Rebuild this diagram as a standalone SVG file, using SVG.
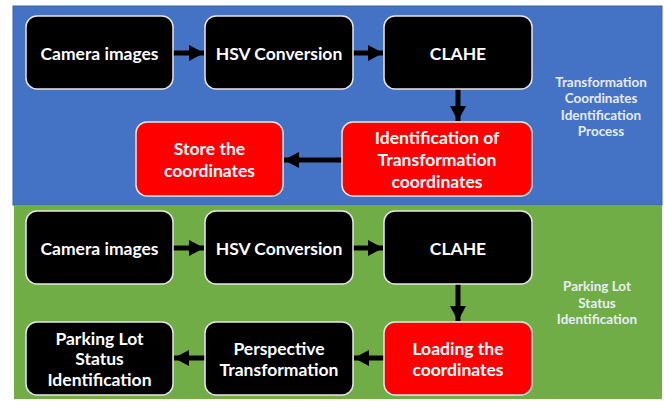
<svg xmlns="http://www.w3.org/2000/svg" width="664" height="401" viewBox="0 0 664 401">
<defs>
<style>
.box{stroke:#e6e6e6;stroke-width:1.5}
.blk{fill:#000}
.red{fill:#ff0000}
.t{font-family:Lato,"Open Sans","Liberation Sans",sans-serif;font-weight:bold;font-size:17.5px;fill:#fff;text-anchor:middle;dominant-baseline:central}
.side{font-family:Lato,"Open Sans","Liberation Sans",sans-serif;font-weight:bold;font-size:13.5px;fill:#e8ecf4;text-anchor:middle;dominant-baseline:central}
.c{stroke:#000;stroke-width:5;fill:none}
</style>
<marker id="ah" markerUnits="userSpaceOnUse" markerWidth="16" markerHeight="16" refX="15" refY="8" orient="auto">
<path d="M0,0 L15,8 L0,16 Z" fill="#000"/>
</marker>
</defs>
<rect x="0" y="0" width="664" height="401" fill="#fff"/>
<g id="panel-top">
<rect x="13" y="6" width="649" height="199" fill="#4472c4" stroke="#3a62aa" stroke-width="1"/>
<text class="side" x="601" y="82">Transformation</text>
<text class="side" x="601" y="98">Coordinates</text>
<text class="side" x="601" y="115">Identification</text>
<text class="side" x="601" y="131">Process</text>
</g>
<g id="panel-bottom">
<rect x="14" y="205" width="648" height="194" fill="#70ad47"/>
<text class="side" x="597" y="286">Parking Lot</text>
<text class="side" x="597" y="303">Status</text>
<text class="side" x="597" y="319">Identification</text>
</g>
<g id="connectors">
<line class="c" x1="173" y1="53" x2="204" y2="53" marker-end="url(#ah)"/>
<line class="c" x1="353" y1="53" x2="383" y2="53" marker-end="url(#ah)"/>
<line class="c" x1="458" y1="89" x2="458" y2="121" marker-end="url(#ah)"/>
<line class="c" x1="342" y1="160" x2="284" y2="160" marker-end="url(#ah)"/>
<line class="c" x1="173" y1="248" x2="204" y2="248" marker-end="url(#ah)"/>
<line class="c" x1="353" y1="248" x2="383" y2="248" marker-end="url(#ah)"/>
<line class="c" x1="458" y1="284" x2="458" y2="321" marker-end="url(#ah)"/>
<line class="c" x1="384" y1="358" x2="354" y2="358" marker-end="url(#ah)"/>
<line class="c" x1="205" y1="358" x2="174" y2="358" marker-end="url(#ah)"/>
</g>
<g id="camera1"><rect class="box blk" x="26" y="16" width="147" height="73" rx="11"/><text class="t" x="99.5" y="53">Camera images</text></g>
<g id="hsv1"><rect class="box blk" x="205" y="16" width="148" height="73" rx="11"/><text class="t" x="279" y="53">HSV Conversion</text></g>
<g id="clahe1"><rect class="box blk" x="384" y="16" width="148" height="73" rx="11"/><text class="t" x="458" y="53">CLAHE</text></g>
<g id="ident1"><rect class="box red" x="342" y="122" width="190" height="74" rx="11"/><text class="t" x="437" y="137">Identification of</text><text class="t" x="437" y="159">Transformation</text><text class="t" x="437" y="181">coordinates</text></g>
<g id="store1"><rect class="box red" x="136" y="122" width="147" height="74" rx="11"/><text class="t" x="209.5" y="148">Store the</text><text class="t" x="209.5" y="170">coordinates</text></g>
<g id="camera2"><rect class="box blk" x="26" y="211" width="147" height="73" rx="11"/><text class="t" x="99.5" y="248">Camera images</text></g>
<g id="hsv2"><rect class="box blk" x="205" y="211" width="148" height="73" rx="11"/><text class="t" x="279" y="248">HSV Conversion</text></g>
<g id="clahe2"><rect class="box blk" x="384" y="211" width="148" height="73" rx="11"/><text class="t" x="458" y="248">CLAHE</text></g>
<g id="loading2"><rect class="box red" x="384" y="322" width="148" height="73" rx="11"/><text class="t" x="458" y="348">Loading the</text><text class="t" x="458" y="369">coordinates</text></g>
<g id="persp2"><rect class="box blk" x="205" y="322" width="148" height="73" rx="11"/><text class="t" x="279" y="348">Perspective</text><text class="t" x="279" y="369">Transformation</text></g>
<g id="parking2"><rect class="box blk" x="26" y="322" width="147" height="73" rx="11"/><text class="t" x="99.5" y="338">Parking Lot</text><text class="t" x="99.5" y="358">Status</text><text class="t" x="99.5" y="379">Identification</text></g>
</svg>
